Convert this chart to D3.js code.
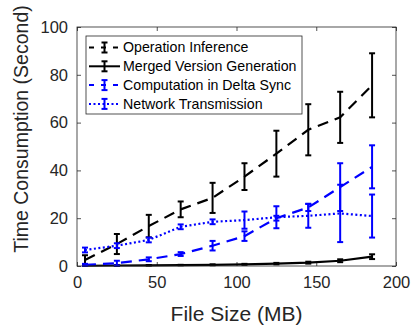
<!DOCTYPE html>
<html><head><meta charset="utf-8">
<script src="https://cdn.jsdelivr.net/npm/d3@7"></script>
<style>html,body{margin:0;padding:0;background:#fff;}svg{display:block;}</style>
</head><body>
<script>
const fileSize = [5, 25, 45, 65, 85, 105, 125, 145, 165, 185];
const opInference = [2.5, 9.2, 16.7, 23.7, 28.5, 37.4, 47, 57, 62.2, 75.6];
const opInferenceErr = [2, 4.2, 4.7, 3.3, 6.3, 5.6, 9.6, 10.7, 10.7, 13.4];
const mergedGen = [0.1, 0.2, 0.3, 0.4, 0.5, 0.7, 1.0, 1.4, 2.2, 3.9];
const mergedGenErr = [0.1, 0.1, 0.1, 0.1, 0.2, 0.2, 0.3, 0.4, 0.6, 1.0];
const compDelta = [0.5, 1.2, 2.8, 5, 8.5, 12.5, 20, 24.5, 33, 41.5];
const compDeltaErr = [0.4, 1, 0.8, 0.8, 2, 2, 1, 1.5, 10, 9];
const netTrans = [6.7, 8.5, 10.9, 16.4, 18.5, 19.2, 20.4, 21, 22, 20.9];
const netTransErr = [1, 1, 1, 1, 1, 3.6, 4.6, 5, 12, 9];
const seriesNames = ["Operation Inference", "Merged Version Generation", "Computation in Delta Sync", "Network Transmission"];
const xTicks = [0, 50, 100, 150, 200];
const yTicks = [0, 20, 40, 60, 80, 100];

const W = 419, H = 328;
const m = {l: 77, r: 23, t: 27, b: 62};
const font = "'Liberation Sans', Arial, Helvetica, sans-serif";
const axCol = "#262626";

const svg = d3.select("body").append("svg").attr("width", W).attr("height", H);
const x = d3.scaleLinear().domain([0, 200]).range([m.l, W - m.r]);
const y = d3.scaleLinear().domain([0, 100]).range([H - m.b, m.t]);

const styles = [
  {vals: opInference, err: opInferenceErr, color: "#000", dash: "11,7"},
  {vals: mergedGen, err: mergedGenErr, color: "#000", dash: null},
  {vals: compDelta, err: compDeltaErr, color: "#0000ff", dash: "11,7"},
  {vals: netTrans, err: netTransErr, color: "#0000ff", dash: "2,2.5"}
];

// axes with inward ticks
const tl = 4;
const gx = svg.append("g").attr("transform", `translate(0,${H - m.b})`)
  .call(d3.axisBottom(x).tickValues(xTicks).tickSizeInner(-tl).tickSizeOuter(0).tickPadding(10));
const gxt = svg.append("g").attr("transform", `translate(0,${m.t})`)
  .call(d3.axisTop(x).tickValues(xTicks).tickSizeInner(-tl).tickSizeOuter(0).tickFormat(""));
const gy = svg.append("g").attr("transform", `translate(${m.l},0)`)
  .call(d3.axisLeft(y).tickValues(yTicks).tickSizeInner(-tl).tickSizeOuter(0).tickPadding(9));
const gyr = svg.append("g").attr("transform", `translate(${W - m.r},0)`)
  .call(d3.axisRight(y).tickValues(yTicks).tickSizeInner(-tl).tickSizeOuter(0).tickFormat(""));
[gx, gxt, gy, gyr].forEach(g => {
  g.select(".domain").remove();
  g.selectAll("line").attr("stroke", axCol).attr("stroke-width", 0.8);
  g.selectAll("text").attr("fill", axCol).style("font-family", font).style("font-size", "16.5px");
});
gx.selectAll("text").attr("dy", "0.71em");

// series
const line = d3.line().x((d, i) => x(fileSize[i])).y(d => y(d));
const cw = 3;
styles.forEach(s => {
  svg.append("path").datum(s.vals).attr("d", line)
    .attr("fill", "none").attr("stroke", s.color).attr("stroke-width", 2.2)
    .attr("stroke-dasharray", s.dash);
  const g = svg.append("g").attr("stroke", s.color).attr("stroke-width", 2);
  s.vals.forEach((v, i) => {
    const xx = x(fileSize[i]), y1 = y(v + s.err[i]), y2 = y(Math.max(0, v - s.err[i]));
    g.append("line").attr("x1", xx).attr("x2", xx).attr("y1", y1).attr("y2", y2);
    g.append("line").attr("x1", xx - cw).attr("x2", xx + cw).attr("y1", y1).attr("y2", y1);
    g.append("line").attr("x1", xx - cw).attr("x2", xx + cw).attr("y1", y2).attr("y2", y2);
  });
});

// frame
svg.append("rect").attr("x", m.l).attr("y", m.t).attr("width", W - m.r - m.l).attr("height", H - m.b - m.t)
  .attr("fill", "none").attr("stroke", axCol).attr("stroke-width", 0.8);

// axis labels
svg.append("text").attr("x", (m.l + W - m.r) / 2).attr("y", 321).attr("text-anchor", "middle")
  .attr("fill", axCol).style("font-family", font).style("font-size", "21px").text("File Size (MB)");
svg.append("text").attr("transform", `translate(28,${129}) rotate(-90)`).attr("text-anchor", "middle")
  .attr("fill", axCol).style("font-family", font).style("font-size", "19.5px").text("Time Consumption (Second)");

// legend
const lg = svg.append("g");
lg.append("rect").attr("x", 86).attr("y", 36).attr("width", 216).attr("height", 78)
  .attr("fill", "#fff").attr("stroke", axCol).attr("stroke-width", 0.8);
seriesNames.forEach((name, i) => {
  const s = styles[i];
  const yy = 47.5 + i * 18.8;
  lg.append("line").attr("x1", 89).attr("x2", 120).attr("y1", yy).attr("y2", yy)
    .attr("stroke", s.color).attr("stroke-width", 2).attr("stroke-dasharray", s.dash ? (s.dash === "11,7" ? "5,7" : s.dash) : null);
  const xc = 104.5;
  lg.append("line").attr("x1", xc).attr("x2", xc).attr("y1", yy - 5).attr("y2", yy + 5).attr("stroke", s.color).attr("stroke-width", 2);
  lg.append("line").attr("x1", xc - 3).attr("x2", xc + 3).attr("y1", yy - 5).attr("y2", yy - 5).attr("stroke", s.color).attr("stroke-width", 2);
  lg.append("line").attr("x1", xc - 3).attr("x2", xc + 3).attr("y1", yy + 5).attr("y2", yy + 5).attr("stroke", s.color).attr("stroke-width", 2);
  lg.append("text").attr("x", 123).attr("y", yy).attr("dy", "0.35em").attr("fill", "#000")
    .style("font-family", font).style("font-size", "14.2px").text(name);
});
</script>
</body></html>
